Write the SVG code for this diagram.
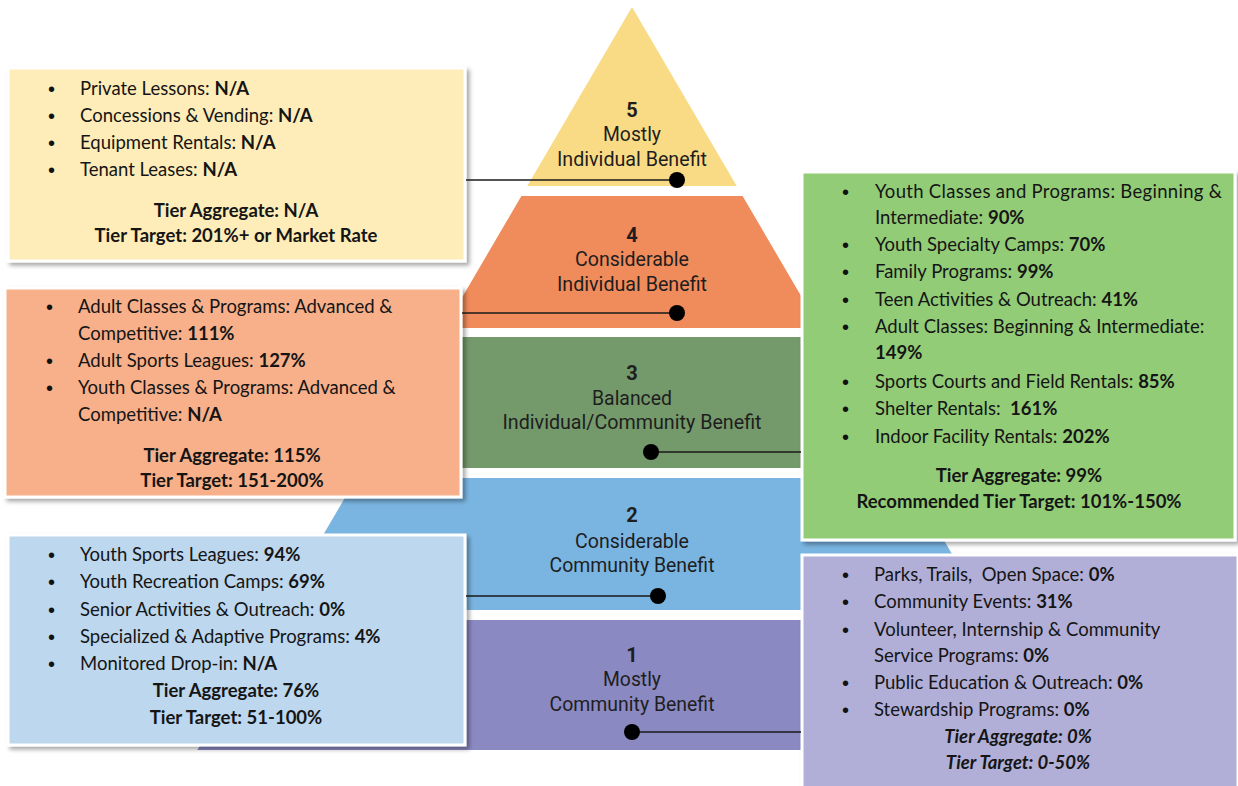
<svg xmlns="http://www.w3.org/2000/svg" width="1238" height="786" viewBox="0 0 1238 786">
  <defs>
    <filter id="shadow" x="-5%" y="-5%" width="112%" height="115%">
      <feDropShadow dx="3" dy="3" stdDeviation="2" flood-color="#000" flood-opacity="0.35"/>
    </filter>
  </defs>
  <style>
    .tier-label { font-family: Roboto, "Liberation Sans", sans-serif; font-size: 20px; fill: #1e1e1e; text-anchor: middle; }
    .tier-num { font-weight: bold; }
    .box { stroke: #ffffff; stroke-width: 3; filter: url(#shadow); }
    .item { font-family: Lato, "Liberation Sans", sans-serif; font-size: 18.5px; fill: #151515; }
    .bullet { font-family: "Liberation Sans", sans-serif; font-size: 20px; fill: #111; }
    .sum { font-family: Lato, "Liberation Sans", sans-serif; font-size: 18.5px; font-weight: bold; fill: #151515; text-anchor: middle; }
    .sum-it { font-style: italic; }
    .b { font-weight: bold; }
    .link { stroke: #1a1a1a; stroke-width: 1.6; fill: none; }
    .dot { fill: #000; }
  </style>

  <!-- pyramid tiers -->
  <g id="pyramid">
    <g id="tier5">
      <polygon points="632,7 736.7,186 527.3,186" fill="#F9DB85"/>
      <text class="tier-label tier-num" x="632" y="117">5</text>
      <text class="tier-label" x="632" y="141" textLength="58" lengthAdjust="spacingAndGlyphs">Mostly</text>
      <text class="tier-label" x="632" y="166" textLength="150" lengthAdjust="spacingAndGlyphs">Individual Benefit</text>
    </g>
    <g id="tier4">
      <polygon points="521.4,196 742.6,196 819.8,328 444.2,328" fill="#F08B5B"/>
      <text class="tier-label tier-num" x="632" y="242">4</text>
      <text class="tier-label" x="632" y="266" textLength="114" lengthAdjust="spacingAndGlyphs">Considerable</text>
      <text class="tier-label" x="632" y="291" textLength="150" lengthAdjust="spacingAndGlyphs">Individual Benefit</text>
    </g>
    <g id="tier3">
      <polygon points="438.9,337 825.1,337 901.7,468 362.3,468" fill="#74996B"/>
      <text class="tier-label tier-num" x="632" y="380">3</text>
      <text class="tier-label" x="632" y="405" textLength="80" lengthAdjust="spacingAndGlyphs">Balanced</text>
      <text class="tier-label" x="632" y="429" textLength="259" lengthAdjust="spacingAndGlyphs">Individual/Community Benefit</text>
    </g>
    <g id="tier2">
      <polygon points="356.5,478 907.5,478 984.8,610 279.2,610" fill="#7AB5E1"/>
      <text class="tier-label tier-num" x="632" y="522">2</text>
      <text class="tier-label" x="632" y="548" textLength="114" lengthAdjust="spacingAndGlyphs">Considerable</text>
      <text class="tier-label" x="632" y="572" textLength="165" lengthAdjust="spacingAndGlyphs">Community Benefit</text>
    </g>
    <g id="tier1">
      <polygon points="273.4,620 990.6,620 1066.7,750 197.3,750" fill="#8B89C2"/>
      <text class="tier-label tier-num" x="632" y="662">1</text>
      <text class="tier-label" x="632" y="686" textLength="58" lengthAdjust="spacingAndGlyphs">Mostly</text>
      <text class="tier-label" x="632" y="711" textLength="165" lengthAdjust="spacingAndGlyphs">Community Benefit</text>
    </g>
  </g>

  <!-- tier 5 program box -->
  <g id="box5">
    <rect class="box" x="8" y="68" width="457" height="193" fill="#FEEDB8"/>
    <text class="bullet" x="48" y="96">•</text>
    <text class="item" x="80" y="95">Private Lessons: <tspan class="b">N/A</tspan></text>
    <text class="bullet" x="48" y="123">•</text>
    <text class="item" x="80" y="122">Concessions &amp; Vending: <tspan class="b">N/A</tspan></text>
    <text class="bullet" x="48" y="150">•</text>
    <text class="item" x="80" y="149">Equipment Rentals: <tspan class="b">N/A</tspan></text>
    <text class="bullet" x="48" y="177">•</text>
    <text class="item" x="80" y="176">Tenant Leases: <tspan class="b">N/A</tspan></text>
    <text class="sum" x="236" y="217">Tier Aggregate: N/A</text>
    <text class="sum" x="236" y="242">Tier Target: 201%+ or Market Rate</text>
  </g>

  <!-- tier 4 program box -->
  <g id="box4">
    <rect class="box" x="5" y="288" width="456" height="209" fill="#F7B08A"/>
    <text class="bullet" x="46" y="314">•</text>
    <text class="item" x="78" y="313">Adult Classes &amp; Programs: Advanced &amp;</text>
    <text class="item" x="78" y="340">Competitive: <tspan class="b">111%</tspan></text>
    <text class="bullet" x="46" y="368">•</text>
    <text class="item" x="78" y="367">Adult Sports Leagues: <tspan class="b">127%</tspan></text>
    <text class="bullet" x="46" y="395">•</text>
    <text class="item" x="78" y="394">Youth Classes &amp; Programs: Advanced &amp;</text>
    <text class="item" x="78" y="421">Competitive: <tspan class="b">N/A</tspan></text>
    <text class="sum" x="232" y="462">Tier Aggregate: 115%</text>
    <text class="sum" x="232" y="487">Tier Target: 151-200%</text>
  </g>

  <!-- tier 3 program box -->
  <g id="box3">
    <rect class="box" x="802" y="172" width="433" height="368" fill="#93CC77"/>
    <text class="bullet" x="842" y="199">•</text>
    <text class="item" x="875" y="198" textLength="347">Youth Classes and Programs: Beginning &amp;</text>
    <text class="item" x="875" y="224">Intermediate: <tspan class="b">90%</tspan></text>
    <text class="bullet" x="842" y="252">•</text>
    <text class="item" x="875" y="251">Youth Specialty Camps: <tspan class="b">70%</tspan></text>
    <text class="bullet" x="842" y="279">•</text>
    <text class="item" x="875" y="278">Family Programs: <tspan class="b">99%</tspan></text>
    <text class="bullet" x="842" y="307">•</text>
    <text class="item" x="875" y="306">Teen Activities &amp; Outreach: <tspan class="b">41%</tspan></text>
    <text class="bullet" x="842" y="334">•</text>
    <text class="item" x="875" y="333">Adult Classes: Beginning &amp; Intermediate:</text>
    <text class="item b" x="875" y="359">149%</text>
    <text class="bullet" x="842" y="389">•</text>
    <text class="item" x="875" y="388">Sports Courts and Field Rentals: <tspan class="b">85%</tspan></text>
    <text class="bullet" x="842" y="416">•</text>
    <text class="item" x="875" y="415" xml:space="preserve">Shelter Rentals:  <tspan class="b">161%</tspan></text>
    <text class="bullet" x="842" y="444">•</text>
    <text class="item" x="875" y="443">Indoor Facility Rentals: <tspan class="b">202%</tspan></text>
    <text class="sum" x="1019" y="482">Tier Aggregate: 99%</text>
    <text class="sum" x="1019" y="508">Recommended Tier Target: 101%-150%</text>
  </g>

  <!-- tier 2 program box -->
  <g id="box2">
    <rect class="box" x="8" y="535" width="457" height="210" fill="#BCD7EE"/>
    <text class="bullet" x="48" y="562">•</text>
    <text class="item" x="80" y="561">Youth Sports Leagues: <tspan class="b">94%</tspan></text>
    <text class="bullet" x="48" y="589">•</text>
    <text class="item" x="80" y="588">Youth Recreation Camps: <tspan class="b">69%</tspan></text>
    <text class="bullet" x="48" y="617">•</text>
    <text class="item" x="80" y="616">Senior Activities &amp; Outreach: <tspan class="b">0%</tspan></text>
    <text class="bullet" x="48" y="644">•</text>
    <text class="item" x="80" y="643">Specialized &amp; Adaptive Programs: <tspan class="b">4%</tspan></text>
    <text class="bullet" x="48" y="671">•</text>
    <text class="item" x="80" y="670">Monitored Drop-in: <tspan class="b">N/A</tspan></text>
    <text class="sum" x="236" y="697">Tier Aggregate: 76%</text>
    <text class="sum" x="236" y="724">Tier Target: 51-100%</text>
  </g>

  <!-- tier 1 program box -->
  <g id="box1">
    <rect class="box" x="802" y="555" width="436" height="240" fill="#B1AFD7"/>
    <text class="bullet" x="842" y="582">•</text>
    <text class="item" x="874" y="581" xml:space="preserve">Parks, Trails,  Open Space: <tspan class="b">0%</tspan></text>
    <text class="bullet" x="842" y="609">•</text>
    <text class="item" x="874" y="608">Community Events: <tspan class="b">31%</tspan></text>
    <text class="bullet" x="842" y="637">•</text>
    <text class="item" x="874" y="636">Volunteer, Internship &amp; Community</text>
    <text class="item" x="874" y="662">Service Programs: <tspan class="b">0%</tspan></text>
    <text class="bullet" x="842" y="690">•</text>
    <text class="item" x="874" y="689">Public Education &amp; Outreach: <tspan class="b">0%</tspan></text>
    <text class="bullet" x="842" y="717">•</text>
    <text class="item" x="874" y="716">Stewardship Programs: <tspan class="b">0%</tspan></text>
    <text class="sum sum-it" x="1018" y="743">Tier Aggregate: 0%</text>
    <text class="sum sum-it" x="1018" y="769">Tier Target: 0-50%</text>
  </g>

  <!-- leader lines from boxes to tiers -->
  <g id="connectors">
    <line class="link" x1="466" y1="180" x2="677" y2="180"/>
    <circle class="dot" cx="677" cy="180" r="8"/>
    <line class="link" x1="462" y1="313" x2="677" y2="313"/>
    <circle class="dot" cx="677" cy="313" r="8"/>
    <line class="link" x1="651" y1="452" x2="801" y2="452"/>
    <circle class="dot" cx="651" cy="452" r="8"/>
    <line class="link" x1="466" y1="596" x2="658" y2="596"/>
    <circle class="dot" cx="658" cy="596" r="8"/>
    <line class="link" x1="632" y1="732" x2="801" y2="732"/>
    <circle class="dot" cx="632" cy="732" r="8"/>
  </g>
</svg>
